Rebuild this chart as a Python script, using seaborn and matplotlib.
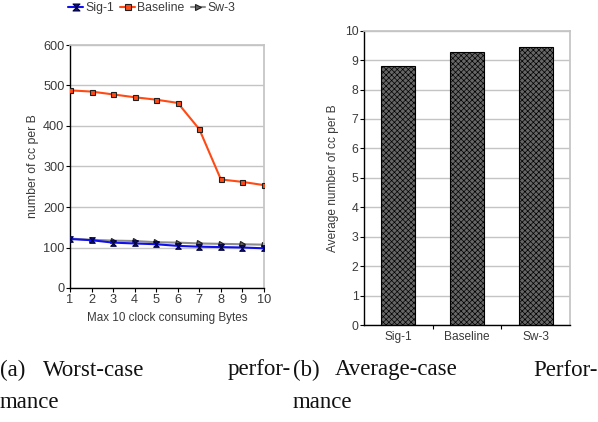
import numpy as np
import pandas as pd
import matplotlib
matplotlib.use("Agg")
import matplotlib.pyplot as plt
from matplotlib.path import Path
import seaborn as sns

# ---- data ----
bytes_x = [1, 2, 3, 4, 5, 6, 7, 8, 9, 10]
sig1 = [121, 118, 112, 110, 108, 104, 102, 101, 100, 98]
baseline = [488, 485, 478, 471, 465, 457, 392, 268, 262, 254]
sw3 = [122, 119, 117, 116, 113, 112, 110, 109, 108, 107]
series_names = ["Sig-1", "Baseline", "Sw-3"]
avg_values = [8.79, 9.26, 9.46]

sns.set_theme(style="white")
plt.rcParams["font.family"] = ["Liberation Sans", "DejaVu Sans"]
plt.rcParams["hatch.color"] = "#2a2a2a"
plt.rcParams["hatch.linewidth"] = 0.5

fig = plt.figure(figsize=(5.98, 4.22), dpi=100)
ax1 = fig.add_axes([70/598, 1-288/422, 194/598, 243/422])
ax2 = fig.add_axes([364/598, 1-325/422, 206/598, 294.3/422])

hourglass = Path([(-1, 1), (1, 1), (-1, -1), (1, -1), (-1, 1)],
                 [Path.MOVETO, Path.LINETO, Path.LINETO, Path.LINETO, Path.CLOSEPOLY])

styles = {
    "Sig-1": dict(color="#1010ee", marker=hourglass, mfc="#101080", mec="#000040", ms=4, z=3),
    "Baseline": dict(color="#ff4a14", marker="s", mfc="#ff4a14", mec="#202020", ms=3.6, z=4),
    "Sw-3": dict(color="#8c8c8c", marker=">", mfc="#606060", mec="#202020", ms=3.6, z=2),
}
df = pd.DataFrame({"x": bytes_x * 3,
                   "y": sig1 + baseline + sw3,
                   "s": sum([[n] * len(bytes_x) for n in series_names], [])})
for name in series_names:
    st = styles[name]
    sub = df[df.s == name]
    sns.lineplot(data=sub, x="x", y="y", ax=ax1, color=st["color"], lw=1.5,
                 marker=st["marker"], markersize=st["ms"], markerfacecolor=st["mfc"],
                 markeredgecolor=st["mec"], markeredgewidth=0.8, label=name,
                 zorder=st["z"], legend=False)

tick_col = "#3a3a3a"
ax1.set_xlim(1, 10)
ax1.set_ylim(0, 600)
ax1.set_xticks(bytes_x)
ax1.set_yticks(range(0, 601, 100))
ax1.yaxis.grid(True, color="#c4c4c4", lw=1)
ax1.set_axisbelow(True)
for sp in ["top", "right"]:
    ax1.spines[sp].set_color("#c4c4c4")
for sp in ["left", "bottom"]:
    ax1.spines[sp].set_color("black")
    ax1.spines[sp].set_linewidth(1)
ax1.tick_params(axis="both", which="major", direction="out", length=3, width=0.8,
                color="black", labelsize=9.2, labelcolor=tick_col, pad=1,
                left=True, bottom=True)
ax1.set_xlabel("Max 10 clock consuming Bytes", fontsize=8.4, color=tick_col, labelpad=5)
ax1.set_ylabel("number of cc per B", fontsize=8.8, color=tick_col, labelpad=3)

handles = [plt.Line2D([], [], color=styles[n]["color"], lw=1.5, marker=styles[n]["marker"],
                      ms=styles[n]["ms"] + 1, mfc=styles[n]["mfc"], mec=styles[n]["mec"], mew=0.8)
           for n in series_names]
fig.legend(handles, series_names, loc="center", bbox_to_anchor=(152/598, 1-8/422), ncol=3,
           frameon=False, fontsize=8.8, handlelength=1.2, handletextpad=0.2, columnspacing=0.5,
           labelcolor=tick_col, borderpad=0)

# ---- bar chart ----
bdf = pd.DataFrame({"cat": series_names, "val": avg_values})
sns.barplot(data=bdf, x="cat", y="val", ax=ax2, color="#5a5a5a", width=0.5,
            edgecolor="black", linewidth=0.8, saturation=1)
for p in ax2.patches:
    p.set_hatch("xxxxxx")
    p.set_facecolor("#666666")
ax2.set_ylim(0, 10)
ax2.set_xlim(-0.5, 2.5)
ax2.set_yticks(range(0, 11))
ax2.yaxis.grid(True, color="#c4c4c4", lw=1)
ax2.set_axisbelow(True)
for sp in ["top", "right"]:
    ax2.spines[sp].set_color("#c4c4c4")
for sp in ["left", "bottom"]:
    ax2.spines[sp].set_color("black")
    ax2.spines[sp].set_linewidth(1)
ax2.set_xticks([0.5, 1.5], minor=True)
ax2.tick_params(axis="x", which="major", length=0, labelsize=8.6, labelcolor=tick_col, pad=4)
ax2.tick_params(axis="x", which="minor", direction="out", length=3, width=0.8, color="black", bottom=True)
ax2.tick_params(axis="y", which="major", direction="out", length=3, width=0.8, color="black",
                labelsize=8.8, labelcolor=tick_col, pad=1, left=True)
ax2.set_xlabel("")
ax2.set_ylabel("Average number of cc per B", fontsize=8.6, color=tick_col, labelpad=4)

# ---- captions ----
cap = dict(family=["Liberation Serif", "DejaVu Serif"], fontsize=16.5, color="#111111", va="center")
fig.text(0/598, 1-370/422, "(a)", ha="left", **cap)
fig.text(43/598, 1-370/422, "Worst-case", ha="left", **cap)
fig.text(291/598, 1-370/422, "perfor-", ha="right", **cap)
fig.text(0/598, 1-402/422, "mance", ha="left", **cap)
fig.text(293/598, 1-370/422, "(b)", ha="left", **cap)
fig.text(335/598, 1-370/422, "Average-case", ha="left", **cap)
fig.text(598/598, 1-370/422, "Perfor-", ha="right", **cap)
fig.text(293/598, 1-402/422, "mance", ha="left", **cap)

fig.savefig("out.png", dpi=100)
